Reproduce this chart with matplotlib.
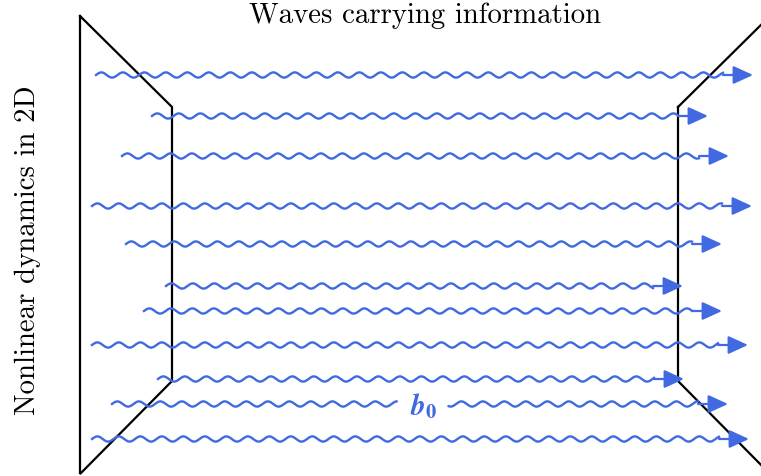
import numpy as np
import matplotlib.pyplot as plt

# wave rows: vertical position, start of the wave, arrow tip (pixel units)
rows_y = [76, 117, 157, 207, 245, 287, 312, 346, 380, 405, 440]
rows_start = [96, 152, 122, 92, 126, 166, 144, 92, 158, 112, 92]
rows_tip = [753, 708, 729, 752, 722, 683, 722, 748, 684, 728, 749]

# the row that carries the label, and the gap left for it
label_row = 9
label_gap = (397, 448)
label_x = 424

# outlines of the two 2D planes
left_plane_x = [80, 172, 172, 80, 80]
left_plane_y = [17, 108, 382, 475, 17]
right_plane_x = [678, 770, 770, 678, 678]
right_plane_y = [108, 17, 475, 382, 108]

blue = '#4169E1'
period = 21.5
amp = 2.6
arrow_len = 30

fig = plt.figure(figsize=(7.61, 4.77), dpi=100)
ax = fig.add_axes([0, 0, 1, 1])
ax.set_xlim(0, 761)
ax.set_ylim(477, 0)
ax.axis('off')

ax.plot(left_plane_x, left_plane_y, color='black', lw=1.6, solid_joinstyle='miter')
ax.plot(right_plane_x, right_plane_y, color='black', lw=1.6, solid_joinstyle='miter')

for i, (y0, x0, tip) in enumerate(zip(rows_y, rows_start, rows_tip)):
    x_end = tip - arrow_len
    x = np.linspace(x0, x_end, 800)
    y = y0 - amp * np.sin(2 * np.pi * (x - x0) / period)
    if i == label_row:
        y = np.where((x > label_gap[0]) & (x < label_gap[1]), np.nan, y)
    ax.plot(x, y, color=blue, lw=1.7)
    ax.annotate('', xy=(tip, y0), xytext=(x_end, y0),
                arrowprops=dict(arrowstyle='-|>,head_length=1.2,head_width=0.55',
                                color=blue, lw=1.6, shrinkA=0, shrinkB=0,
                                mutation_scale=10))

ax.text(label_x, rows_y[label_row] + 1, r'$\mathbfit{b}_\mathbf{0}$', color=blue,
        fontsize=21, ha='center', va='center', math_fontfamily='stix')

ax.text(425, 16, 'Waves carrying information', family='cmr10', fontsize=20.8,
        ha='center', va='center')
ax.text(28, 250, 'Nonlinear dynamics in 2D', family='cmr10', fontsize=20.8,
        ha='center', va='center', rotation=90)

fig.savefig('out.png', dpi=100)
